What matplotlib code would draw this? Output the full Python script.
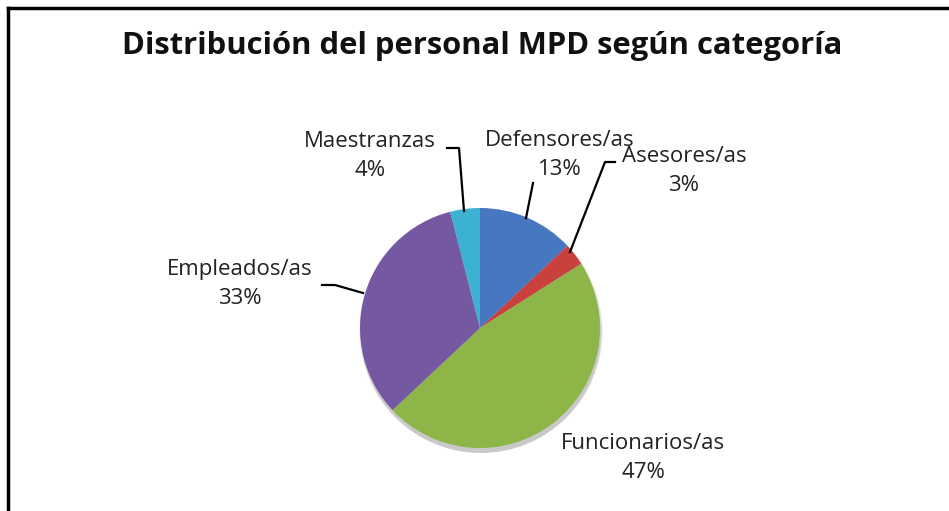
import matplotlib
matplotlib.use("Agg")
import matplotlib.pyplot as plt
from matplotlib.patches import Circle
import numpy as np

title = "Distribución del personal MPD según categoría"
categories = ["Defensores/as", "Asesores/as", "Funcionarios/as", "Empleados/as", "Maestranzas"]
values = [13, 3, 47, 33, 4]
colors = ["#4677c0", "#c8413c", "#8db547", "#7558a2", "#3cb1d2"]

W, H = 949, 511
fig = plt.figure(figsize=(W / 100, H / 100), dpi=100)
ax = fig.add_axes([0, 0, 1, 1])
ax.set_xlim(0, W)
ax.set_ylim(0, H)
ax.set_aspect("equal")
ax.axis("off")

def Y(y):
    return H - y

# frame lines (top and left)
ax.plot([8, W], [Y(8), Y(8)], color="black", lw=2.5, solid_capstyle="projecting")
ax.plot([8, 8], [Y(8), 0], color="black", lw=2.5, solid_capstyle="projecting")

ax.text(482, Y(46), title, ha="center", va="center", fontsize=22.3,
        fontweight="bold", family="Open Sans", color="#111111")

cx, cy, r = 480, Y(328), 120
# soft shadow
for i, a in enumerate([0.05, 0.07, 0.10]):
    ax.add_patch(Circle((cx + 1, cy - 3 - i), r + 2 - i, color="black", alpha=a, lw=0, zorder=1))

wedges, _ = ax.pie(values, colors=colors, startangle=90, counterclock=False,
                   center=(cx, cy), radius=r, frame=True,
                   wedgeprops=dict(linewidth=0, zorder=2))
ax.set_xlim(0, W)
ax.set_ylim(0, H)
ax.axis("off")

lab_font = dict(family="Open Sans", fontsize=16, color="#222222", ha="center", va="center",
                linespacing=1.45)
# label text positions (layout)
label_pos = {
    "Defensores/as": (560, 155),
    "Asesores/as": (684, 171),
    "Funcionarios/as": (643, 458),
    "Empleados/as": (240, 284),
    "Maestranzas": (370, 156),
}
for cat, v in zip(categories, values):
    x, y = label_pos[cat]
    ax.text(x, Y(y), f"{cat}\n{v}%", zorder=5, **lab_font)

# leader lines
leaders = [
    [(447, 148), (459, 148), (464, 211)],
    [(533, 183), (526, 218)],
    [(615, 162), (605, 162), (570, 252)],
    [(322, 285), (335, 285), (363, 293)],
]
for pts in leaders:
    xs = [p[0] for p in pts]
    ys = [Y(p[1]) for p in pts]
    ax.plot(xs, ys, color="black", lw=1.6, zorder=6)

fig.savefig("out.png", dpi=100, facecolor="white")
